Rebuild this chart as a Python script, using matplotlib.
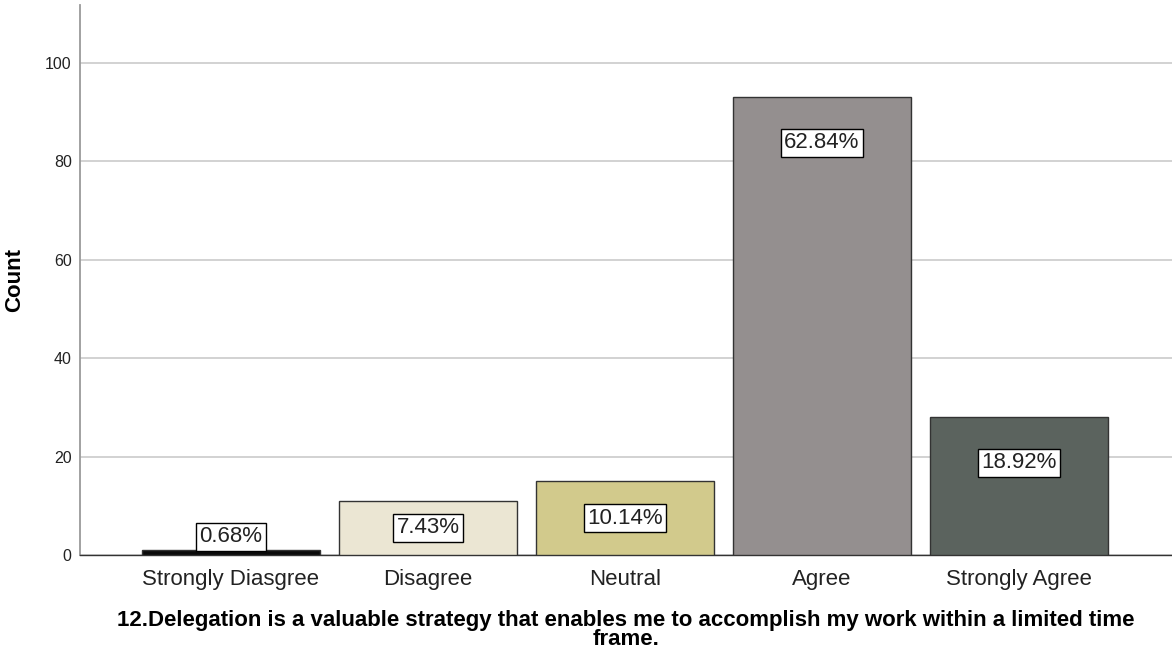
import numpy as np
import matplotlib
matplotlib.use('Agg')
import matplotlib.pyplot as plt

plt.rcParams['font.family'] = ['Liberation Sans', 'DejaVu Sans']

categories = ["Strongly Diasgree", "Disagree", "Neutral", "Agree", "Strongly Agree"]
counts = [1, 11, 15, 93, 28]
colors = ["#0a0a0a", "#ebe6d3", "#d2ca8c", "#948f8f", "#5b635e"]
yticks = [0, 20, 40, 60, 80, 100]
title = "12.Delegation is a valuable strategy that enables me to accomplish my work within a limited time\nframe."

total = sum(counts)
pcts = [100.0 * c / total for c in counts]

fig = plt.figure(figsize=(11.72, 6.58), dpi=100)
ax = fig.add_axes([80/1172, 1 - 555/658, 1092/1172, 550/658])

x = np.arange(len(categories))
ax.bar(x, counts, width=0.9, color=colors, edgecolor="#333333", linewidth=1.0, zorder=3)

# percentage labels inside the bars
for xi, c, p in zip(x, counts, pcts):
    ly = max(c - 9.3, c / 2, 3.7)
    ax.text(xi, ly, "%.2f%%" % p, ha="center", va="center", fontsize=16,
            color="#222222", zorder=4,
            bbox=dict(boxstyle="square,pad=0.15", fc="white", ec="black", lw=1.0))

ax.set_xlim(-0.766, 4.777)
ax.set_ylim(0, 111.7)
ax.set_yticks(yticks)
ax.set_xticks(x)
ax.set_xticklabels(categories, fontsize=16, color="#222222")
for lbl in ax.get_xticklabels():
    lbl.set_va("baseline")
ax.tick_params(axis='y', length=0, labelsize=11.5, pad=6, labelcolor="#222222")
ax.tick_params(axis='x', length=0, pad=21.5)
ax.yaxis.grid(True, color="#cfcfcf", linewidth=1.3, zorder=0)
ax.set_axisbelow(True)

for s in ["top", "right"]:
    ax.spines[s].set_visible(False)
ax.spines["left"].set_color("#9a9a9a")
ax.spines["left"].set_linewidth(1.3)
ax.spines["bottom"].set_color("#333333")
ax.spines["bottom"].set_linewidth(1.0)

fig.text(15/1172, 1 - 280/658, "Count", rotation=90, ha="center", va="center",
         fontsize=16, fontweight="bold")
fig.text(626/1172, 1 - 630/658, title, ha="center", va="center",
         fontsize=16, fontweight="bold", linespacing=0.9)

fig.savefig("out.png", dpi=100)
